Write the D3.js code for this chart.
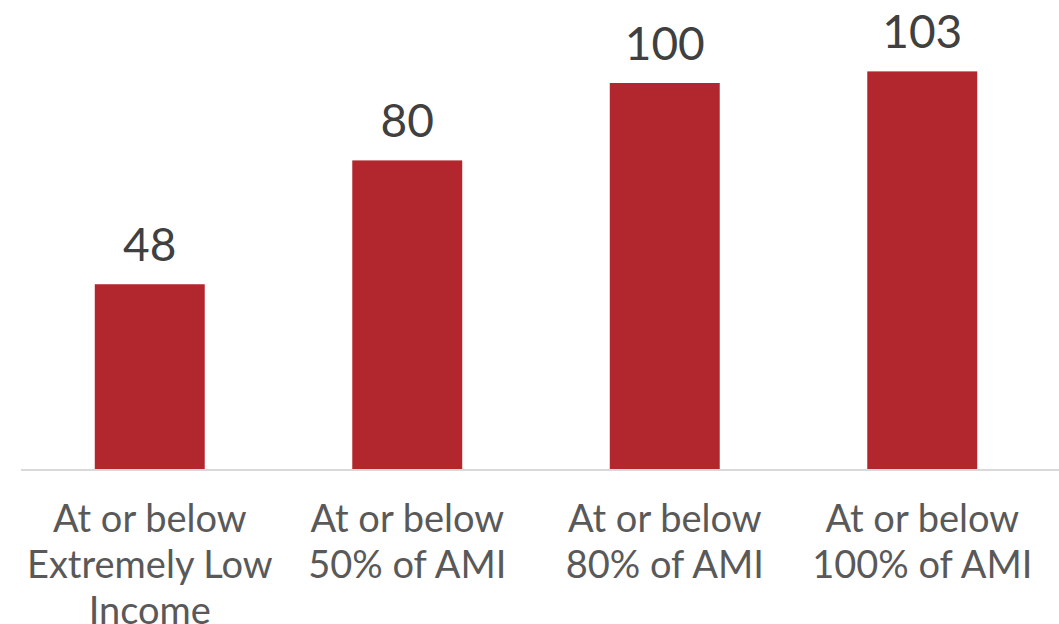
<!DOCTYPE html>
<html>
<head>
<meta charset="utf-8">
<script src="https://cdn.jsdelivr.net/npm/d3@7"></script>
<style>
  html, body { margin: 0; padding: 0; background: #fff; }
  svg { display: block; }
</style>
</head>
<body>
<svg id="chart" width="1059" height="624"></svg>
<script>
// Category labels (one entry per line of each wrapped label)
const categories = [
  ["At or below", "Extremely Low", "Income"],
  ["At or below", "50% of AMI"],
  ["At or below", "80% of AMI"],
  ["At or below", "100% of AMI"]
];
const values = [48, 80, 100, 103];

const W = 1059, H = 624;
const margin = { left: 21, right: 8, top: 0, bottom: 154 };
const svg = d3.select("#chart");
const font = "Lato, 'Open Sans', sans-serif";

const ids = categories.map((_, i) => i);
const x = d3.scaleBand()
  .domain(ids)
  .range([margin.left, 1051])
  .paddingInner(0.573)
  .paddingOuter(0.2865);

const y = d3.scaleLinear()
  .domain([0, 120])
  .range([470, 470 - 120 * 3.87]);

// Bars
svg.append("g").selectAll("rect")
  .data(values)
  .join("rect")
  .attr("x", (d, i) => x(i))
  .attr("width", x.bandwidth())
  .attr("y", d => y(d))
  .attr("height", d => y(0) - y(d))
  .attr("fill", "#b2262e");

// Baseline axis
const axis = svg.append("g")
  .attr("transform", `translate(0,${y(0)})`)
  .call(d3.axisBottom(x).tickSize(0).tickFormat(""));
axis.select(".domain").attr("stroke", "#d9d9d9").attr("stroke-width", 2)
  .attr("d", `M${margin.left},0H${W}`);

// Value labels
svg.append("g").selectAll("text")
  .data(values)
  .join("text")
  .attr("x", (d, i) => x(i) + x.bandwidth() / 2)
  .attr("y", d => y(d) - 23)
  .attr("text-anchor", "middle")
  .attr("font-family", font)
  .attr("font-size", 46)
  .attr("fill", "#404040")
  .text(d => d);

// Category labels
const lab = svg.append("g").selectAll("text")
  .data(categories)
  .join("text")
  .attr("x", (d, i) => x(i) + x.bandwidth() / 2)
  .attr("y", 532)
  .attr("text-anchor", "middle")
  .attr("font-family", font)
  .attr("font-size", 38)
  .attr("fill", "#595959");
lab.selectAll("tspan")
  .data(d => d)
  .join("tspan")
  .attr("x", function () { return d3.select(this.parentNode).attr("x"); })
  .attr("dy", (d, j) => j === 0 ? 0 : 46)
  .text(d => d);
</script>
</body>
</html>
